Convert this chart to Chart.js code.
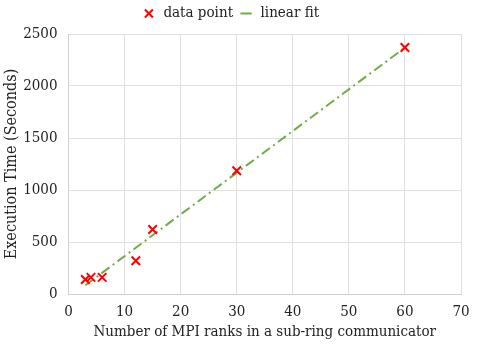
<!DOCTYPE html>
<html>
<head>
<meta charset="utf-8">
<script src="https://cdn.jsdelivr.net/npm/chart.js@4"></script>
<style>
  html, body { margin: 0; padding: 0; background: #fff; }
  #wrap { width: 479px; height: 352px; }
</style>
</head>
<body>
<div id="wrap"><canvas id="chart"></canvas></div>
<script>
// measured points
const ranks = [3, 4, 6, 12, 15, 30, 60];
const execTimes = [140, 160, 160, 320, 620, 1185, 2370];
// fitted line end points
const fitRanks = [3, 60];
const fitTimes = [84, 2369];

const serif = "'DejaVu Serif Condensed', 'Liberation Serif', serif";
Chart.defaults.font.family = serif;
Chart.defaults.color = '#222';

// extra space between the legend and the plot
const legendGap = {
    id: 'legendGap',
    beforeInit(chart) {
        const fit = chart.legend.fit;
        chart.legend.fit = function () {
            fit.call(this);
            this.height += 3;
        };
    }
};

const ctx = document.getElementById('chart').getContext('2d');
new Chart(ctx, {
    type: 'scatter',
    data: {
        datasets: [{
            label: 'data point',
            data: ranks.map((x, i) => ({ x: x, y: execTimes[i] })),
            pointStyle: 'crossRot',
            pointRadius: 6,
            pointBorderWidth: 2,
            borderColor: '#ff0000',
            backgroundColor: '#ff0000'
        }, {
            label: 'linear fit',
            type: 'line',
            data: fitRanks.map((x, i) => ({ x: x, y: fitTimes[i] })),
            borderColor: '#70ad47',
            backgroundColor: '#70ad47',
            borderWidth: 2,
            borderDash: [10, 4, 2, 4],
            pointRadius: 0,
            pointStyle: 'line',
            pointBorderWidth: 2
        }]
    },
    plugins: [legendGap],
    options: {
        responsive: true,
        maintainAspectRatio: false,
        animation: false,
        layout: { padding: { left: 0, right: 18, top: 0, bottom: 9 } },
        plugins: {
            legend: {
                position: 'top',
                labels: {
                    usePointStyle: true,
                    boxWidth: 14,
                    boxHeight: 8,
                    font: { size: 15 },
                    color: '#222',
                    padding: 6
                }
            },
            tooltip: { enabled: false }
        },
        scales: {
            x: {
                type: 'linear',
                min: 0,
                max: 70,
                ticks: { stepSize: 10, font: { size: 15 }, color: '#222', padding: 0 },
                grid: { color: '#e0e0e0', tickLength: 9, tickColor: 'rgba(0,0,0,0)' },
                border: { color: '#d0d0d0' },
                title: {
                    display: true,
                    text: 'Number of MPI ranks in a sub-ring communicator',
                    font: { size: 15 },
                    color: '#222',
                    padding: { top: 2, bottom: 2 }
                }
            },
            y: {
                min: 0,
                max: 2500,
                ticks: { stepSize: 500, font: { size: 15 }, color: '#222', padding: 0, callback: v => String(v) },
                grid: { color: '#e0e0e0', tickLength: 11, tickColor: 'rgba(0,0,0,0)' },
                border: { color: '#d0d0d0' },
                title: {
                    display: true,
                    text: 'Execution Time (Seconds)',
                    font: { size: 16 },
                    color: '#222',
                    padding: 2
                }
            }
        }
    }
});
</script>
</body>
</html>
